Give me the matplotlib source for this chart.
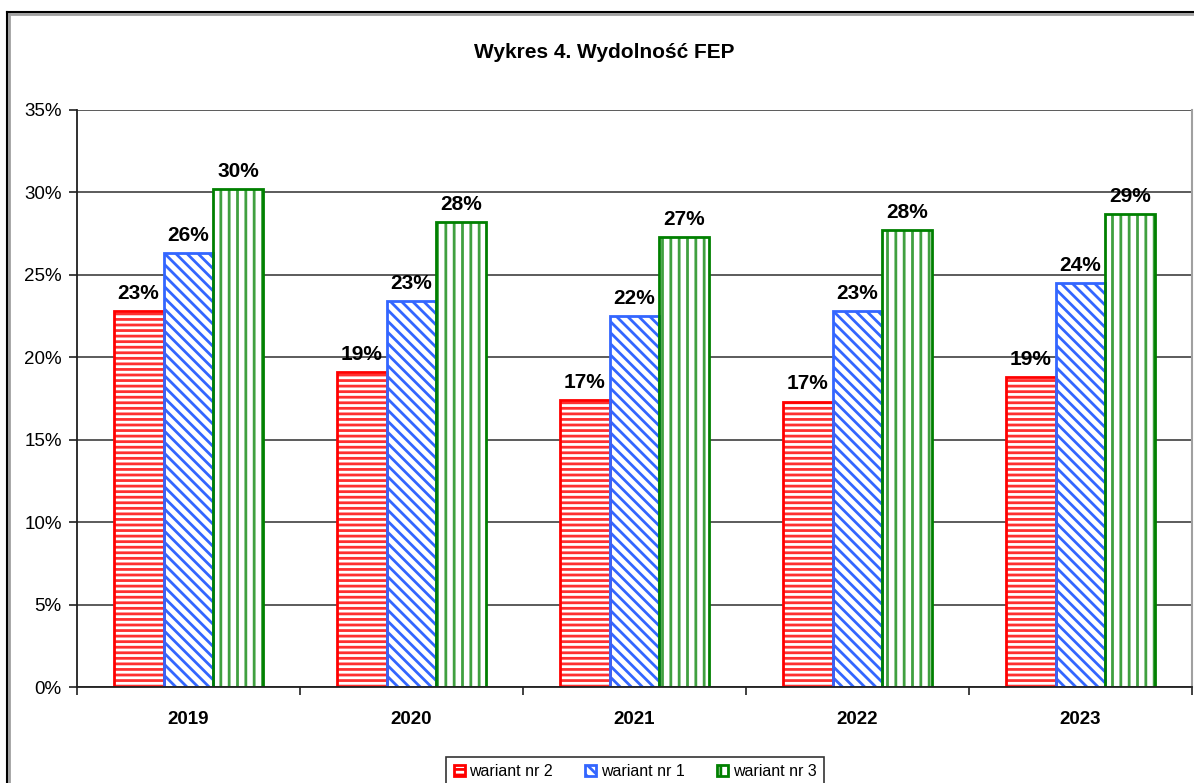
import matplotlib
matplotlib.use("Agg")
import matplotlib.pyplot as plt
import numpy as np
from matplotlib.patches import Patch
from matplotlib.lines import Line2D

plt.rcParams['font.family'] = ['Liberation Sans', 'DejaVu Sans']
plt.rcParams['hatch.linewidth'] = 2.0

years = ['2019', '2020', '2021', '2022', '2023']
series_names = ['wariant nr 2', 'wariant nr 1', 'wariant nr 3']
wariant2 = [0.228, 0.191, 0.174, 0.173, 0.188]
wariant1 = [0.263, 0.234, 0.225, 0.228, 0.245]
wariant3 = [0.302, 0.282, 0.273, 0.277, 0.287]
yticks = [0, 0.05, 0.10, 0.15, 0.20, 0.25, 0.30, 0.35]
ytick_labels = ['0%', '5%', '10%', '15%', '20%', '25%', '30%', '35%']

series = [wariant2, wariant1, wariant3]
edge_colors = ['#FF0000', '#3366FF', '#008000']
hatch_colors = ['#FF3030', '#3366FF', '#40A040']
hatches = ['---', '\\\\\\', '||']

W, H = 1194, 783
fig = plt.figure(figsize=(W / 100, H / 100), dpi=100)

# outer frame
fig.add_artist(Line2D([8.5 / W, 8.5 / W], [0, 1 - 12 / H], color='#A0A0A0', lw=2.0, transform=fig.transFigure))
fig.add_artist(Line2D([8 / W, 1], [1 - 13.5 / H, 1 - 13.5 / H], color='#A0A0A0', lw=2.0, transform=fig.transFigure))
fig.add_artist(Line2D([7 / W, 7 / W], [0, 1 - 12 / H], color='black', lw=1.5, transform=fig.transFigure))
fig.add_artist(Line2D([7 / W, 1], [1 - 12 / H, 1 - 12 / H], color='black', lw=1.5, transform=fig.transFigure))

left, right, top, bottom = 77, 1192, 110, 687
ax = fig.add_axes([left / W, 1 - bottom / H, (right - left) / W, (bottom - top) / H])

x = np.arange(len(years))
bw = 0.224
offsets = [-bw, 0, bw]
for vals, ec, hc, hatch, off, name in zip(series, edge_colors, hatch_colors, hatches, offsets, series_names):
    ax.bar(x + off, vals, width=bw, facecolor='white', edgecolor=hc, hatch=hatch, linewidth=0, zorder=3)
    ax.bar(x + off, vals, width=bw, fill=False, edgecolor=ec, linewidth=2, zorder=4)
    for xi, v in zip(x + off, vals):
        ax.annotate(f'{round(v * 100):.0f}%', (xi, v), xytext=(0, 6), textcoords='offset points',
                    ha='center', va='bottom', fontsize=15, fontweight='bold', zorder=5)

ax.set_xlim(-0.5, len(years) - 0.5)
ax.set_ylim(0, 0.35)
ax.set_yticks(yticks)
ax.set_yticklabels(ytick_labels, fontsize=13.5)
ax.yaxis.grid(True, color='#404040', lw=1.2, zorder=1)
ax.set_xticks(x)
ax.set_xticklabels(years, fontsize=13.5, fontweight='bold')
ax.set_xticks(np.arange(-0.5, len(years)), minor=True)
ax.tick_params(axis='x', which='major', length=0, pad=17)
ax.tick_params(axis='x', which='minor', length=6, width=1.2, color='#202020')
ax.tick_params(axis='y', length=6, width=1.2, color='#202020', pad=5)

for s in ['left', 'bottom']:
    ax.spines[s].set_color('#202020')
    ax.spines[s].set_linewidth(1.3)
    ax.spines[s].set_zorder(6)
ax.spines['top'].set_visible(False)
ax.spines['right'].set_color('#A0A0A0')
ax.spines['right'].set_linewidth(1.5)

fig.text(604 / W, 1 - 52 / H, 'Wykres 4. Wydolność FEP', ha='center', va='center',
         fontsize=15, fontweight='bold')

handles = [Patch(facecolor='white', edgecolor=ec, hatch=h, linewidth=2) for ec, h in zip(edge_colors, hatches)]
leg = fig.legend(handles, series_names, loc='upper center', bbox_to_anchor=(635 / W, 1 - 757 / H),
                 ncol=3, frameon=True, fancybox=False, fontsize=11.5, handlelength=0.7, handleheight=0.7,
                 handletextpad=0.3, columnspacing=2.0, borderpad=0.45, borderaxespad=0, edgecolor='black')
leg.get_frame().set_linewidth(1.2)

fig.savefig('out.png', dpi=100, facecolor='white')
